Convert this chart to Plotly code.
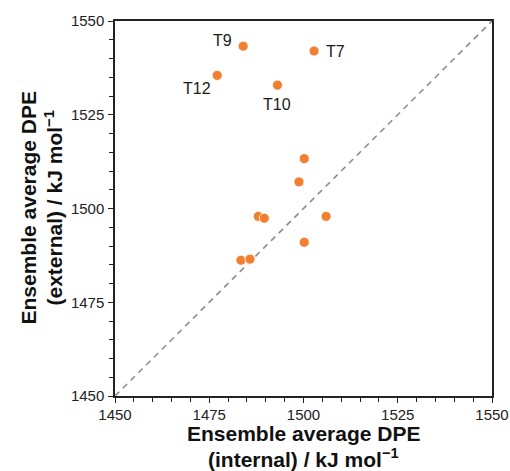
import plotly.graph_objects as go

# Data (kJ/mol)
internal = [1484.0, 1502.8, 1477.1, 1493.1, 1500.2, 1498.8, 1488.0, 1489.6, 1506.0, 1500.2, 1483.4, 1485.8]
external = [1543.3, 1542.0, 1535.5, 1532.9, 1513.3, 1507.1, 1497.9, 1497.4, 1497.9, 1491.0, 1486.2, 1486.5]
labels = ["T9", "T7", "T12", "T10", "", "", "", "", "", "", "", ""]
axis_range = [1450, 1550]
tick_vals = [1450, 1475, 1500, 1525, 1550]

ORANGE = "#F0802F"
FONT = "Liberation Sans, Arial, sans-serif"

fig = go.Figure()

# parity line
fig.add_trace(go.Scatter(
    x=axis_range, y=axis_range, mode="lines",
    line=dict(color="#8c8c8c", width=1.6, dash="6px,5px"),
    hoverinfo="skip", showlegend=False,
))

fig.add_trace(go.Scatter(
    x=internal, y=external, mode="markers",
    marker=dict(color=ORANGE, size=10, line=dict(color="white", width=0.8)),
    showlegend=False,
))

# label placement (style only)
label_style = {
    "T9": dict(xanchor="right", yanchor="middle", xshift=-9, yshift=6),
    "T7": dict(xanchor="left", yanchor="middle", xshift=10, yshift=0),
    "T12": dict(xanchor="right", yanchor="middle", xshift=-4, yshift=-13),
    "T10": dict(xanchor="center", yanchor="middle", xshift=0, yshift=-19),
}
for xi, yi, lab in zip(internal, external, labels):
    if lab:
        fig.add_annotation(x=xi, y=yi, text=lab, showarrow=False,
                           font=dict(family=FONT, size=16, color="#1a1a1a"),
                           **label_style[lab])

axis_common = dict(
    range=axis_range, tickvals=tick_vals, showgrid=False, zeroline=False,
    showline=True, linecolor="#222", linewidth=1.5, mirror=True,
    ticks="outside", ticklen=5, tickwidth=1.3, tickcolor="#222",
    tickfont=dict(family=FONT, size=15, color="#222"),
    minor=dict(ticks="outside", ticklen=4, tickwidth=1.1, tickcolor="#222", dtick=5, showgrid=False),
    automargin=False,
)
fig.update_xaxes(**axis_common, ticklabelstandoff=-1)
fig.update_yaxes(**axis_common, ticklabelstandoff=1)

title_font = dict(family=FONT, size=21, color="#111")
# x-axis title lines
fig.add_annotation(xref="paper", yref="paper", x=0.5, y=0, text="<b>Ensemble average DPE</b>",
                   showarrow=False, xanchor="center", yanchor="middle", yshift=-37, font=title_font)
fig.add_annotation(xref="paper", yref="paper", x=0.5, y=0, text="<b>(internal) / kJ mol<sup>−1</sup></b>",
                   showarrow=False, xanchor="center", yanchor="middle", yshift=-62, font=title_font)
# y-axis title lines
fig.add_annotation(xref="paper", yref="paper", x=0, y=0.5, text="<b>Ensemble average DPE</b>",
                   showarrow=False, xanchor="center", yanchor="middle", xshift=-87, textangle=-90, font=title_font)
fig.add_annotation(xref="paper", yref="paper", x=0, y=0.5, text="<b>(external) / kJ mol<sup>−1</sup></b>",
                   showarrow=False, xanchor="center", yanchor="middle", xshift=-62, textangle=-90, font=title_font)

fig.update_layout(
    width=510, height=471,
    margin=dict(l=115, r=18, t=21, b=75, autoexpand=False),
    paper_bgcolor="white", plot_bgcolor="white",
    font=dict(family=FONT),
)

fig.write_html("out.html")
